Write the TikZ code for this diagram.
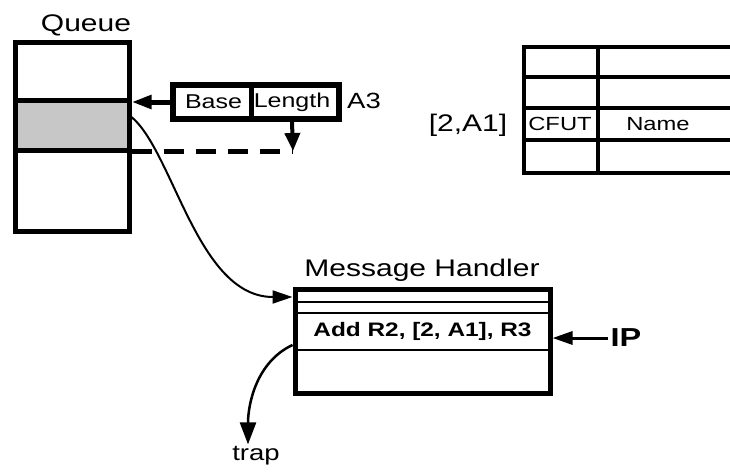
\documentclass[tikz,border=0pt]{standalone}
\usepackage{fontspec}
\setmainfont{Liberation Sans}[FakeStretch=1.25]
\usepackage{tikz}
\usetikzlibrary{arrows.meta}
\newcommand{\bigtxt}{\fontsize{24}{28}\selectfont}
\newcommand{\boxtxt}{\fontsize{20}{24}\selectfont}

\begin{document}
\begin{tikzpicture}[
      x=1pt, y=1pt,
      box/.style={draw=black, line width=5pt, inner sep=0pt, fill=white},
      lbl/.style={font=\bigtxt, inner sep=2pt},
      cell/.style={font=\boxtxt, inner sep=1pt},
      grid/.style={line width=4.5pt},
      >={Triangle[length=20pt,width=13pt]}
      ]
  \useasboundingbox (0,0) rectangle (730,-471);
  \clip (0,0) rectangle (730,-471);

  % queue with the current slot
  \node[box, minimum width=113.5pt, minimum height=189pt] (queue) at (72.25,-136.5) {};
  \node[box, fill=black!22, minimum width=113.5pt, minimum height=50pt] (slot) at (72.25,-125) {};
  \node[lbl] (qtitle) at (86,-25) {Queue};

  % base / length descriptor
  \node[box, line width=6pt, minimum width=166pt, minimum height=34pt] (desc) at (256,-102) {};
  \node[cell, minimum width=75pt] (base) at (213.5,-102) {Base};
  \node[cell] (length) at (292,-102) {Length};
  \node[lbl, font=\fontsize{22}{26}\selectfont] (a3) at (364,-101) {A3};
  \draw[line width=5pt] (base.east |- desc.north) -- (base.east |- desc.south);
  \coordinate (dashend) at (293,-151);

  % name table
  \draw[grid] (740,-47) -| (524,-173) -- (740,-173);
  \foreach \y in {77,108,140}
    \draw[grid] (524,-\y) -- (740,-\y);
  \draw[grid] (598,-47) -- (598,-173);
  \node[lbl] (addr) at (468,-125) {[2,A1]};
  \node[cell, font=\fontsize{19}{22}\selectfont] (cfut) at (560,-124) {CFUT};
  \node[cell, font=\fontsize{19}{22}\selectfont] (name) at (658,-124) {Name};

  % message handler
  \node[box, minimum width=255pt, minimum height=104pt] (handler) at (422.5,-341) {};
  \node[draw, line width=2.5pt, minimum width=255pt, minimum height=37pt,
        font=\bfseries\fontsize{19.5}{23}\selectfont] (instr) at (422.5,-331.5) {Add R2, [2, A1], R3};
  \draw[line width=2.5pt] ([yshift=-15.5pt]handler.north west) -- ([yshift=-15.5pt]handler.north east);
  \node[lbl] (htitle) at (422,-270) {Message Handler};
  \node[lbl, font=\bfseries\fontsize{26}{30}\selectfont] (ip) at (626,-338) {IP};
  \node[lbl, font=\fontsize{22}{26}\selectfont] (trap) at (256,-456) {trap};

  % Connect the nodes
  \draw[->, line width=5pt] (desc.west) -- (desc.west -| queue.east);
  \draw[line width=5pt, dash pattern=on 20pt off 12pt] (slot.east |- dashend) -- (dashend);
  \draw[-{Triangle[length=18pt,width=15pt]}, line width=4pt] (length |- desc.south) -- (dashend);
  \draw[->, line width=2pt] ([yshift=8pt]slot.east)
      .. controls +(-40:55) and +(180:95) .. ([yshift=44pt]handler.west);
  \draw[->, line width=3pt] (ip.west) -- (ip.west -| handler.east);
  \draw[-{Triangle[length=22pt,width=16pt]}, line width=2.5pt] ([yshift=-4pt]handler.west)
      .. controls +(205:40) and +(90:40) .. (trap.north -| 248,0);
\end{tikzpicture}
\end{document}
